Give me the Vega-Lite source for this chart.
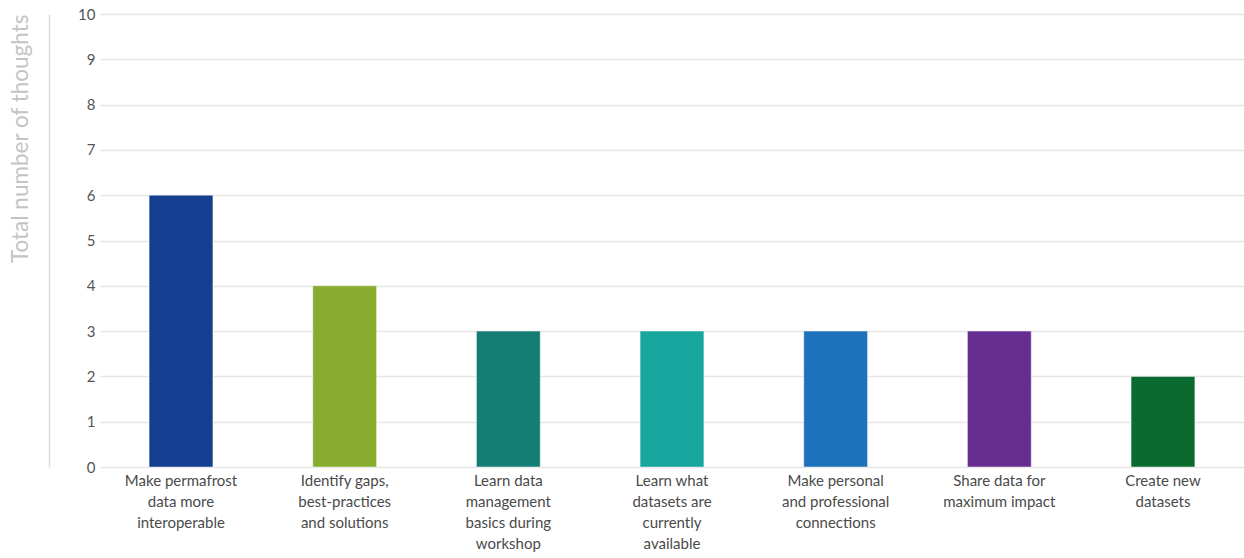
{
  "$schema": "https://vega.github.io/schema/vega-lite/v6.json",
  "width": 1144,
  "height": 453,
  "autosize": {"type": "none"},
  "padding": {"left": 100, "top": 14, "right": 0, "bottom": 91},
  "background": "white",
  "config": {
    "font": "Lato",
    "view": {"stroke": null}
  },
  "data": {
    "values": [
      {"goal": "Make permafrost data more interoperable", "thoughts": 6},
      {"goal": "Identify gaps, best-practices and solutions", "thoughts": 4},
      {"goal": "Learn data management basics during workshop", "thoughts": 3},
      {"goal": "Learn what datasets are currently available", "thoughts": 3},
      {"goal": "Make personal and professional connections", "thoughts": 3},
      {"goal": "Share data for maximum impact", "thoughts": 3},
      {"goal": "Create new datasets", "thoughts": 2}
    ]
  },
  "mark": {"type": "bar", "stroke": "white", "strokeOpacity": 0.45, "strokeWidth": 1},
  "encoding": {
    "x": {
      "field": "goal",
      "type": "nominal",
      "sort": null,
      "scale": {"paddingInner": 0.61, "paddingOuter": 0.3},
      "axis": {
        "title": null,
        "domain": false,
        "ticks": false,
        "labelAngle": 0,
        "labelAlign": "center",
        "labelBaseline": "top",
        "labelPadding": 6,
        "labelFontSize": 15,
        "labelFontWeight": "normal",
        "labelColor": "#4a4a4a",
        "labelLineHeight": 21.3,
        "labelLimit": 0,
        "labelOverlap": false,
        "labelExpr": "{'Make permafrost data more interoperable': ['Make permafrost', 'data more', 'interoperable'], 'Identify gaps, best-practices and solutions': ['Identify gaps,', 'best-practices', 'and solutions'], 'Learn data management basics during workshop': ['Learn data', 'management', 'basics during', 'workshop'], 'Learn what datasets are currently available': ['Learn what', 'datasets are', 'currently', 'available'], 'Make personal and professional connections': ['Make personal', 'and professional', 'connections'], 'Share data for maximum impact': ['Share data for', 'maximum impact'], 'Create new datasets': ['Create new', 'datasets']}[datum.value]"
      }
    },
    "y": {
      "field": "thoughts",
      "type": "quantitative",
      "scale": {"domain": [0, 10], "nice": false},
      "axis": {
        "title": "Total number of thoughts",
        "titleFontSize": 22.5,
        "titleFontWeight": "normal",
        "titleColor": "#c4c4c4",
        "titleAnchor": "end",
        "titlePadding": 17,
        "values": [0, 1, 2, 3, 4, 5, 6, 7, 8, 9, 10],
        "labelOverlap": false,
        "offset": 51,
        "domain": true,
        "domainColor": "#dcdcdc",
        "domainWidth": 1.5,
        "ticks": false,
        "labelPadding": -46,
        "labelFontSize": 15,
        "labelFontWeight": "normal",
        "labelColor": "#555555",
        "grid": true,
        "gridColor": "#e6e6e6",
        "gridWidth": 1.5
      }
    },
    "color": {
      "field": "goal",
      "type": "nominal",
      "sort": null,
      "legend": null,
      "scale": {
        "range": ["#143f91", "#88ad2e", "#147e75", "#17a69d", "#1d72bb", "#662d91", "#0b6a30"]
      }
    }
  }
}
